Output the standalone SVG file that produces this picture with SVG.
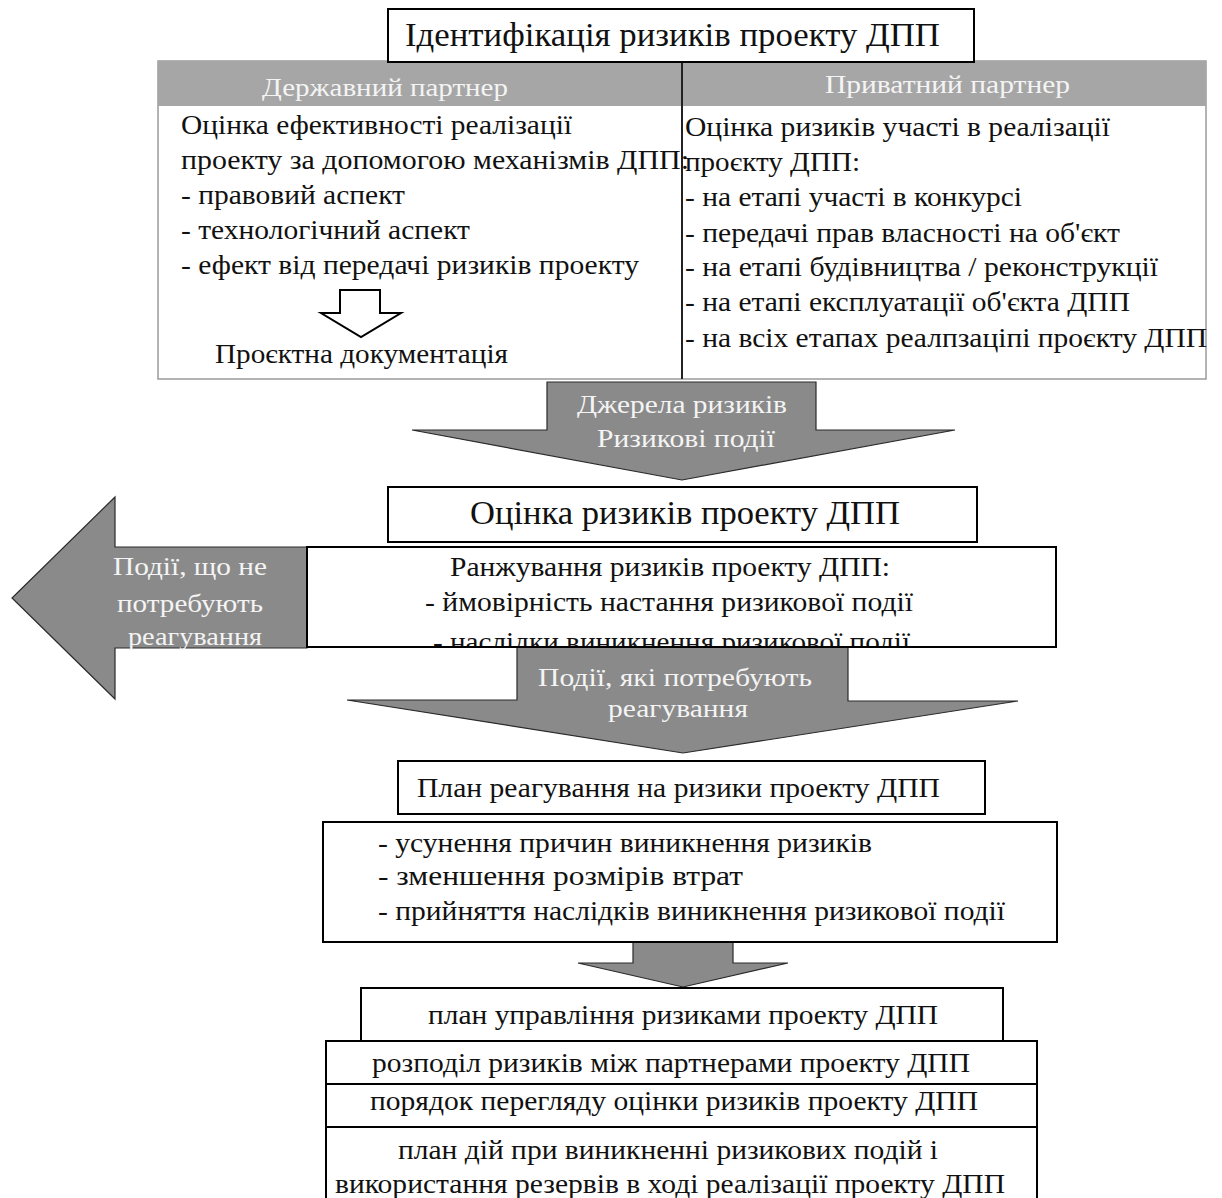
<svg xmlns="http://www.w3.org/2000/svg" width="1222" height="1198" viewBox="0 0 1222 1198">
<style>
text{font-family:"Liberation Serif","Times New Roman",serif;fill:#111;font-size:28px}
.w{fill:#f4f4f4;font-size:26px}
.t{font-size:34px}
.a{font-size:33px}
.box{fill:#fff;stroke:#000;stroke-width:2}
.garrow{fill:#8a8a8a;stroke:#2a2a2a;stroke-width:1.2}
.hdr{fill:#a6a6a6}
.m{text-anchor:middle}
</style>
<defs>
<clipPath id="rankClip"><rect x="308" y="548" width="747" height="98"/></clipPath>
</defs>
<rect width="1222" height="1198" fill="#fff"/>

<g id="identification">
<rect x="158" y="61" width="1048" height="318" fill="#fff" stroke="#9a9a9a" stroke-width="1.5"/>
<rect class="hdr" x="158" y="61" width="1048" height="45"/>
<line x1="682" y1="61" x2="682" y2="379" stroke="#222" stroke-width="2"/>
<rect class="box" x="388" y="9" width="586" height="53"/>
<text class="t" x="405" y="46" textLength="535" lengthAdjust="spacingAndGlyphs">Ідентифікація ризиків проекту ДПП</text>
</g>

<g id="state-partner">
<text class="w" x="262" y="96" textLength="246" lengthAdjust="spacingAndGlyphs">Державний партнер</text>
<text x="181" y="134" textLength="391" lengthAdjust="spacingAndGlyphs">Оцінка ефективності реалізації</text>
<text x="181" y="169" textLength="508" lengthAdjust="spacingAndGlyphs">проекту за допомогою механізмів ДПП:</text>
<text x="181" y="204" textLength="224" lengthAdjust="spacingAndGlyphs">- правовий аспект</text>
<text x="181" y="239" textLength="289" lengthAdjust="spacingAndGlyphs">- технологічний аспект</text>
<text x="181" y="274" textLength="458" lengthAdjust="spacingAndGlyphs">- ефект від передачі ризиків проекту</text>
<path d="M340 290 H380 V313 H401 L361 337 L321 313 H340 Z" fill="#fff" stroke="#000" stroke-width="2"/>
<text x="215" y="363" textLength="293" lengthAdjust="spacingAndGlyphs">Проєктна документація</text>
</g>

<g id="private-partner">
<text class="w" x="825" y="93" textLength="245" lengthAdjust="spacingAndGlyphs">Приватний партнер</text>
<text x="685" y="136" textLength="425" lengthAdjust="spacingAndGlyphs">Оцінка ризиків участі в реалізації</text>
<text x="685" y="171" textLength="175" lengthAdjust="spacingAndGlyphs">проєкту ДПП:</text>
<text x="685" y="206" textLength="337" lengthAdjust="spacingAndGlyphs">- на етапі участі в конкурсі</text>
<text x="685" y="242" textLength="435" lengthAdjust="spacingAndGlyphs">- передачі прав власності на об'єкт</text>
<text x="685" y="276" textLength="473" lengthAdjust="spacingAndGlyphs">- на етапі будівництва / реконструкції</text>
<text x="685" y="311" textLength="445" lengthAdjust="spacingAndGlyphs">- на етапі експлуатації об'єкта ДПП</text>
<text x="685" y="347" textLength="522" lengthAdjust="spacingAndGlyphs">- на всіх етапах реалпзаціпі проєкту ДПП</text>
</g>

<g id="connectors">
<g id="arrow-sources">
<path class="garrow" d="M547 382 H816 V430 H955 L682 480 L412 430 H547 Z"/>
<text class="w m" x="682" y="413" textLength="210" lengthAdjust="spacingAndGlyphs">Джерела ризиків</text>
<text class="w m" x="686" y="447" textLength="178" lengthAdjust="spacingAndGlyphs">Ризикові події</text>
</g>
<g id="arrow-no-response">
<path class="garrow" d="M307 547 H115 V497 L12 598 L115 699 V648 H307 Z"/>
<text class="w m" x="190" y="575" textLength="154" lengthAdjust="spacingAndGlyphs">Події, що не</text>
<text class="w m" x="190" y="612" textLength="146" lengthAdjust="spacingAndGlyphs">потребують</text>
<text class="w m" x="195" y="645" textLength="134" lengthAdjust="spacingAndGlyphs">реагування</text>
</g>
<g id="arrow-response">
<path class="garrow" d="M517 647 H848 V701 H1018 L683 753 L347 700 H517 Z"/>
<text class="w m" x="675" y="686" textLength="274" lengthAdjust="spacingAndGlyphs">Події, які потребують</text>
<text class="w m" x="678" y="717" textLength="140" lengthAdjust="spacingAndGlyphs">реагування</text>
</g>
<g id="arrow-plan">
<path class="garrow" d="M633 942 H733 V963 H788 L683 987 L578 963 H633 Z"/>
</g>
</g>

<g id="assessment">
<rect class="box" x="388" y="487" width="589" height="55" stroke-width="2.5"/>
<text class="a" x="470" y="524" textLength="430" lengthAdjust="spacingAndGlyphs">Оцінка ризиків проекту ДПП</text>
</g>

<g id="ranking">
<rect class="box" x="307" y="547" width="749" height="100"/>
<g clip-path="url(#rankClip)">
<text x="450" y="576" textLength="440" lengthAdjust="spacingAndGlyphs">Ранжування ризиків проекту ДПП:</text>
<text x="425" y="611" textLength="488" lengthAdjust="spacingAndGlyphs">- ймовірність настання ризикової події</text>
<text x="433" y="651" textLength="477" lengthAdjust="spacingAndGlyphs">- наслідки виникнення ризикової події</text>
</g>
<line x1="307" y1="647" x2="1056" y2="647" stroke="#000" stroke-width="2"/>
</g>

<g id="response-plan">
<rect class="box" x="398" y="761" width="587" height="53"/>
<text x="417" y="797" textLength="523" lengthAdjust="spacingAndGlyphs">План реагування на ризики проекту ДПП</text>
</g>

<g id="response-measures">
<rect class="box" x="323" y="822" width="734" height="120"/>
<text x="378" y="852" textLength="494" lengthAdjust="spacingAndGlyphs">- усунення причин виникнення ризиків</text>
<text x="378" y="885" textLength="365" lengthAdjust="spacingAndGlyphs">- зменшення розмірів втрат</text>
<text x="378" y="920" textLength="627" lengthAdjust="spacingAndGlyphs">- прийняття наслідків виникнення ризикової події</text>
</g>

<g id="management-plan">
<rect class="box" x="361" y="988" width="642" height="53"/>
<text x="428" y="1024" textLength="510" lengthAdjust="spacingAndGlyphs">план управління ризиками проекту ДПП</text>
</g>

<g id="management-table">
<rect class="box" x="326" y="1041" width="711" height="170"/>
<line x1="326" y1="1084" x2="1037" y2="1084" stroke="#000" stroke-width="2"/>
<line x1="326" y1="1127" x2="1037" y2="1127" stroke="#000" stroke-width="2"/>
<text x="372" y="1072" textLength="598" lengthAdjust="spacingAndGlyphs">розподіл ризиків між партнерами проекту ДПП</text>
<text x="370" y="1110" textLength="608" lengthAdjust="spacingAndGlyphs">порядок перегляду оцінки ризиків проекту ДПП</text>
<text x="398" y="1159" textLength="540" lengthAdjust="spacingAndGlyphs">план дій при виникненні ризикових подій і</text>
<text x="335" y="1193" textLength="670" lengthAdjust="spacingAndGlyphs">використання резервів в ході реалізації проекту ДПП</text>
</g>
</svg>
